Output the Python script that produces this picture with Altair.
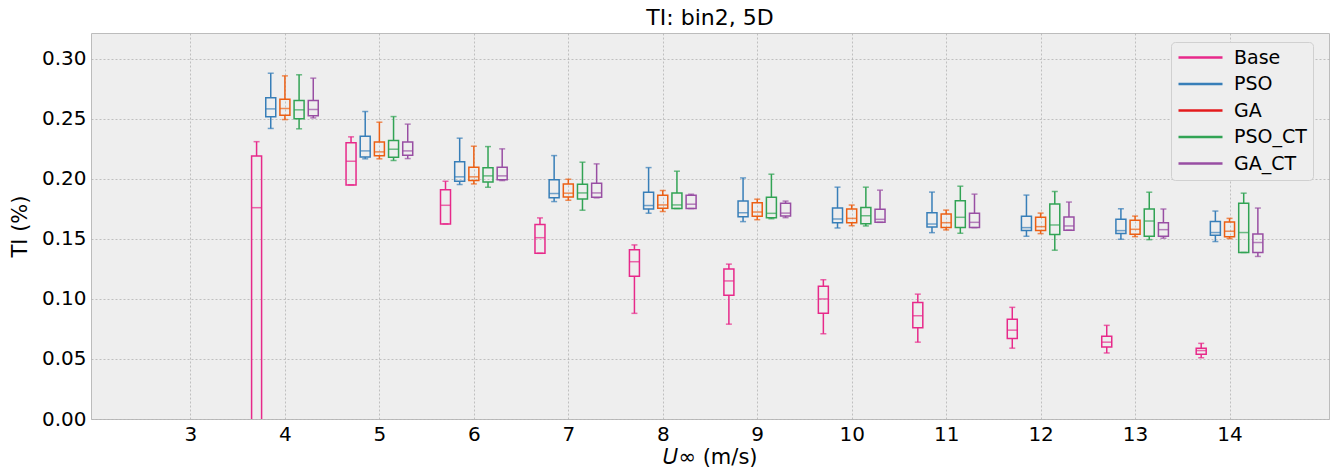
import altair as alt
import pandas as pd

speeds = [4, 5, 6, 7, 8, 9, 10, 11, 12, 13, 14]
series_names = ["Base", "PSO", "GA", "PSO_CT", "GA_CT"]
x_ticks = [3, 4, 5, 6, 7, 8, 9, 10, 11, 12, 13, 14]
y_ticks = [0.0, 0.05, 0.10, 0.15, 0.20, 0.25, 0.30]

base_lo = [-0.10, 0.195, 0.1625, 0.138, 0.088, 0.079, 0.071, 0.064, 0.059, 0.055, 0.051]
base_q1 = [-0.03, 0.195, 0.1625, 0.138, 0.119, 0.103, 0.088, 0.076, 0.067, 0.060, 0.054]
base_med = [0.176, 0.2147, 0.178, 0.151, 0.131, 0.115, 0.100, 0.086, 0.074, 0.064, 0.057]
base_q3 = [0.219, 0.230, 0.191, 0.162, 0.141, 0.125, 0.1105, 0.097, 0.083, 0.069, 0.059]
base_hi = [0.231, 0.235, 0.198, 0.1675, 0.145, 0.129, 0.116, 0.104, 0.093, 0.078, 0.063]

pso_lo = [0.242, 0.2167, 0.1953, 0.1811, 0.1714, 0.1644, 0.1591, 0.1552, 0.1522, 0.1497, 0.1478]
pso_q1 = [0.2517, 0.2183, 0.198, 0.1842, 0.175, 0.1685, 0.1635, 0.1599, 0.1569, 0.1544, 0.153]
pso_med = [0.2583, 0.2233, 0.2017, 0.1878, 0.1778, 0.1718, 0.1666, 0.1624, 0.1594, 0.1569, 0.1553]
pso_q3 = [0.2675, 0.2356, 0.2142, 0.1992, 0.1889, 0.1815, 0.1757, 0.1718, 0.1688, 0.1663, 0.1644]
pso_hi = [0.288, 0.2561, 0.2339, 0.2194, 0.2094, 0.2008, 0.1931, 0.189, 0.1865, 0.1751, 0.1732]

ga_lo = [0.2494, 0.2167, 0.1958, 0.1822, 0.1728, 0.166, 0.161, 0.1575, 0.1544, 0.1519, 0.1503]
ga_q1 = [0.253, 0.2192, 0.1986, 0.185, 0.1756, 0.1688, 0.1635, 0.1594, 0.1569, 0.1539, 0.1519]
ga_med = [0.2586, 0.2225, 0.2017, 0.1881, 0.1783, 0.1724, 0.1671, 0.1635, 0.1602, 0.158, 0.1564]
ga_q3 = [0.2664, 0.2308, 0.2097, 0.1958, 0.1864, 0.1801, 0.1749, 0.1707, 0.168, 0.1655, 0.1641]
ga_hi = [0.2858, 0.2472, 0.2272, 0.1997, 0.1903, 0.1831, 0.1782, 0.174, 0.1715, 0.169, 0.1671]

psoct_lo = [0.2417, 0.2153, 0.193, 0.1739, 0.1753, 0.1668, 0.1608, 0.1547, 0.1406, 0.1494, 0.1387]
psoct_q1 = [0.25, 0.218, 0.1975, 0.1833, 0.1753, 0.1677, 0.1627, 0.1594, 0.1536, 0.1522, 0.1387]
psoct_med = [0.2575, 0.2247, 0.2025, 0.1883, 0.1783, 0.1713, 0.1693, 0.168, 0.1616, 0.1649, 0.1553]
psoct_q3 = [0.2653, 0.232, 0.2092, 0.1956, 0.1883, 0.1848, 0.1762, 0.1818, 0.179, 0.1749, 0.1798]
psoct_hi = [0.2867, 0.2519, 0.2269, 0.2139, 0.2064, 0.2039, 0.1931, 0.1939, 0.1895, 0.1889, 0.1881]

gact_lo = [0.2508, 0.2169, 0.1986, 0.1842, 0.1753, 0.1677, 0.1638, 0.1594, 0.1572, 0.1506, 0.1354]
gact_q1 = [0.2525, 0.2197, 0.1992, 0.1847, 0.1753, 0.1691, 0.1638, 0.1594, 0.1572, 0.1522, 0.1387]
gact_med = [0.2578, 0.2233, 0.2025, 0.1883, 0.1789, 0.1715, 0.1663, 0.1638, 0.1608, 0.1577, 0.147]
gact_q3 = [0.2653, 0.2308, 0.2097, 0.1964, 0.1864, 0.1796, 0.1746, 0.1713, 0.1682, 0.1635, 0.1541]
gact_hi = [0.2839, 0.2456, 0.225, 0.2125, 0.1872, 0.1815, 0.1906, 0.1873, 0.1807, 0.1749, 0.1757]

stats = {
    "Base": (base_lo, base_q1, base_med, base_q3, base_hi),
    "PSO": (pso_lo, pso_q1, pso_med, pso_q3, pso_hi),
    "GA": (ga_lo, ga_q1, ga_med, ga_q3, ga_hi),
    "PSO_CT": (psoct_lo, psoct_q1, psoct_med, psoct_q3, psoct_hi),
    "GA_CT": (gact_lo, gact_q1, gact_med, gact_q3, gact_hi),
}
offsets = {"Base": -0.3, "PSO": -0.15, "GA": 0.0, "PSO_CT": 0.15, "GA_CT": 0.3}
legend_colors = ["#e7298a", "#377eb8", "#e41a1c", "#31a354", "#984ea3"]
ga_box_color = "#ec5f13"

rows = []
for name in series_names:
    lo, q1, med, q3, hi = stats[name]
    for i, s in enumerate(speeds):
        rows.append({"series": name, "speed": s, "pos": s + offsets[name],
                     "lo": lo[i], "q1": q1[i], "med": med[i], "q3": q3[i], "hi": hi[i]})
df = pd.DataFrame(rows)

xscale = alt.Scale(domain=[2, 15], nice=False, zero=False)
yscale = alt.Scale(domain=[0, 0.3215], nice=False, zero=False)
xaxis = alt.Axis(values=x_ticks, title="𝑈∞ (m/s)", tickSize=0, labelPadding=5, titlePadding=2,
                 labelFontSize=20, titleFontSize=21)
yaxis = alt.Axis(values=y_ticks, format=".2f", title="TI (%)", tickSize=0, labelPadding=5,
                 titlePadding=11, labelFontSize=20, titleFontSize=21)

def color_enc(show_legend):
    leg = alt.Legend(title=None, orient="none", legendX=1080, legendY=9,
                     symbolType="M-4,0L4,0", symbolSize=121, symbolStrokeWidth=2.5,
                     symbolOffset=14, labelOffset=24, labelFontSize=19, rowPadding=6.5,
                     padding=6, fillColor="#eeeeee", strokeColor="#d0d0d0",
                     cornerRadius=4, labelColor="black") if show_legend else None
    return alt.condition(
        "datum.series === 'GA'",
        alt.value(ga_box_color),
        alt.Color("series:N", scale=alt.Scale(domain=series_names, range=legend_colors),
                  sort=series_names, legend=leg),
    )

base = alt.Chart(df).encode(x=alt.X("pos:Q", scale=xscale, axis=xaxis))

whisk_lo = base.mark_rule(strokeWidth=1.5, clip=True).encode(
    y=alt.Y("lo:Q", scale=yscale, axis=yaxis), y2="q1:Q", color=color_enc(True))
whisk_hi = base.mark_rule(strokeWidth=1.5, clip=True).encode(
    y=alt.Y("q3:Q", scale=yscale, axis=yaxis), y2="hi:Q", color=color_enc(False))
cap_lo = base.mark_tick(orient="horizontal", size=6, thickness=1.5, clip=True).encode(
    y=alt.Y("lo:Q", scale=yscale, axis=yaxis), color=color_enc(False))
cap_hi = base.mark_tick(orient="horizontal", size=6, thickness=1.5, clip=True).encode(
    y=alt.Y("hi:Q", scale=yscale, axis=yaxis), color=color_enc(False))
box = base.mark_bar(filled=False, size=10, strokeWidth=1.5, clip=True).encode(
    y=alt.Y("q1:Q", scale=yscale, axis=yaxis), y2="q3:Q", color=color_enc(False))
median = base.mark_tick(orient="horizontal", size=10, thickness=1.5, clip=True).encode(
    y=alt.Y("med:Q", scale=yscale, axis=yaxis), color=color_enc(False))

chart = alt.layer(whisk_lo, whisk_hi, cap_lo, cap_hi, box, median).properties(
    width=1238, height=386,
    title=alt.Title("TI: bin2, 5D", fontSize=22, fontWeight="normal", offset=3,
                    color="black"),
    autosize=alt.AutoSizeParams(type="none"),
    padding={"left": 91, "top": 33, "right": 8, "bottom": 51},
).configure(
    background="white", font="DejaVu Sans"
).configure_view(
    fill="#eeeeee", stroke="#bcbcbc", strokeWidth=1
).configure_axis(
    gridColor="#b2b2b2", gridDash=[2, 2], gridWidth=0.8, gridOpacity=1,
    domain=False, labelColor="black", titleColor="black", titleFontWeight="normal",
    labelFont="DejaVu Sans", titleFont="DejaVu Sans"
).configure_legend(
    labelFont="DejaVu Sans"
)

chart.save("out.html", embed_options={"renderer": "svg", "actions": False})
